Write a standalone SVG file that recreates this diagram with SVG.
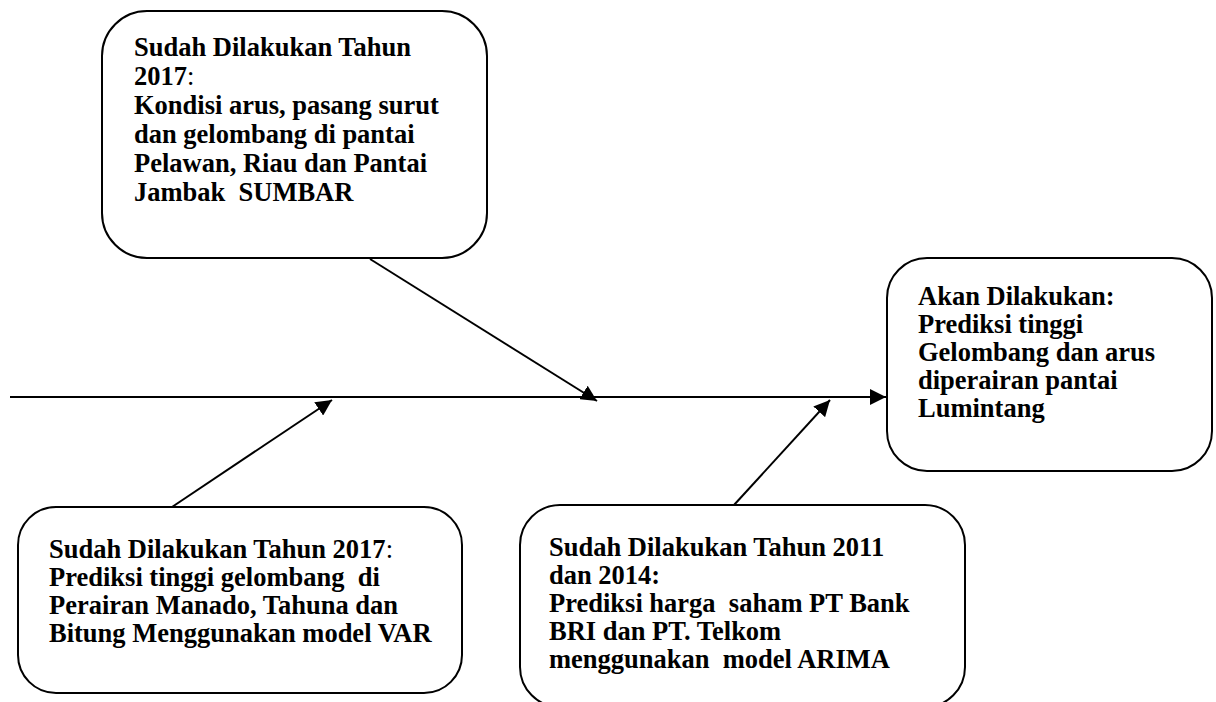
<svg xmlns="http://www.w3.org/2000/svg" width="1216" height="702" viewBox="0 0 1216 702">
<defs>
<style>
.box{fill:#fff;stroke:#000;stroke-width:2}
.t{font-family:"Liberation Serif","Times New Roman",serif;font-size:26.5px;font-weight:bold;fill:#000}
.r{font-weight:normal}
.c{stroke:#000;stroke-width:2;fill:none}
</style>
<marker id="ah" markerUnits="userSpaceOnUse" markerWidth="18" markerHeight="16" refX="16" refY="8" orient="auto">
<path d="M0,0 L16,8 L0,16 Z" fill="#000"/>
</marker>
</defs>
<rect width="1216" height="702" fill="#fff"/>
<g id="connectors">
<line class="c" x1="10" y1="397" x2="886" y2="397" marker-end="url(#ah)"/>
<line class="c" x1="370" y1="259" x2="597" y2="401" marker-end="url(#ah)"/>
<line class="c" x1="172" y1="507" x2="332" y2="400" marker-end="url(#ah)"/>
<line class="c" x1="734" y1="505" x2="830" y2="400" marker-end="url(#ah)"/>
</g>
<g id="top">
<rect class="box" x="102" y="11" width="385" height="247" rx="45" ry="45"/>
<text class="t" x="134" y="56">Sudah Dilakukan Tahun</text>
<text class="t" x="134" y="85">2017<tspan class="r">:</tspan></text>
<text class="t" x="134" y="114">Kondisi arus, pasang surut</text>
<text class="t" x="134" y="143">dan gelombang di pantai</text>
<text class="t" x="134" y="172">Pelawan, Riau dan Pantai</text>
<text class="t" x="134" y="201" xml:space="preserve">Jambak  SUMBAR</text>
</g>
<g id="target">
<rect class="box" x="887" y="258" width="325" height="213" rx="40" ry="40"/>
<text class="t" x="918" y="305">Akan Dilakukan:</text>
<text class="t" x="918" y="333">Prediksi tinggi</text>
<text class="t" x="918" y="361">Gelombang dan arus</text>
<text class="t" x="918" y="389">diperairan pantai</text>
<text class="t" x="918" y="417">Lumintang</text>
</g>
<g id="bottom-left">
<rect class="box" x="18" y="507" width="444" height="186" rx="38" ry="38"/>
<text class="t" x="49" y="558">Sudah Dilakukan Tahun 2017<tspan class="r">:</tspan></text>
<text class="t" x="49" y="586" xml:space="preserve">Prediksi tinggi gelombang  di</text>
<text class="t" x="49" y="614">Perairan Manado, Tahuna dan</text>
<text class="t" x="49" y="642">Bitung Menggunakan model VAR</text>
</g>
<g id="bottom-right">
<rect class="box" x="520" y="505" width="445" height="202" rx="40" ry="40"/>
<text class="t" x="549" y="556">Sudah Dilakukan Tahun 2011</text>
<text class="t" x="549" y="584">dan 2014:</text>
<text class="t" x="549" y="612" xml:space="preserve">Prediksi harga  saham PT Bank</text>
<text class="t" x="549" y="640">BRI dan PT. Telkom</text>
<text class="t" x="549" y="668" xml:space="preserve">menggunakan  model ARIMA</text>
</g>
</svg>
